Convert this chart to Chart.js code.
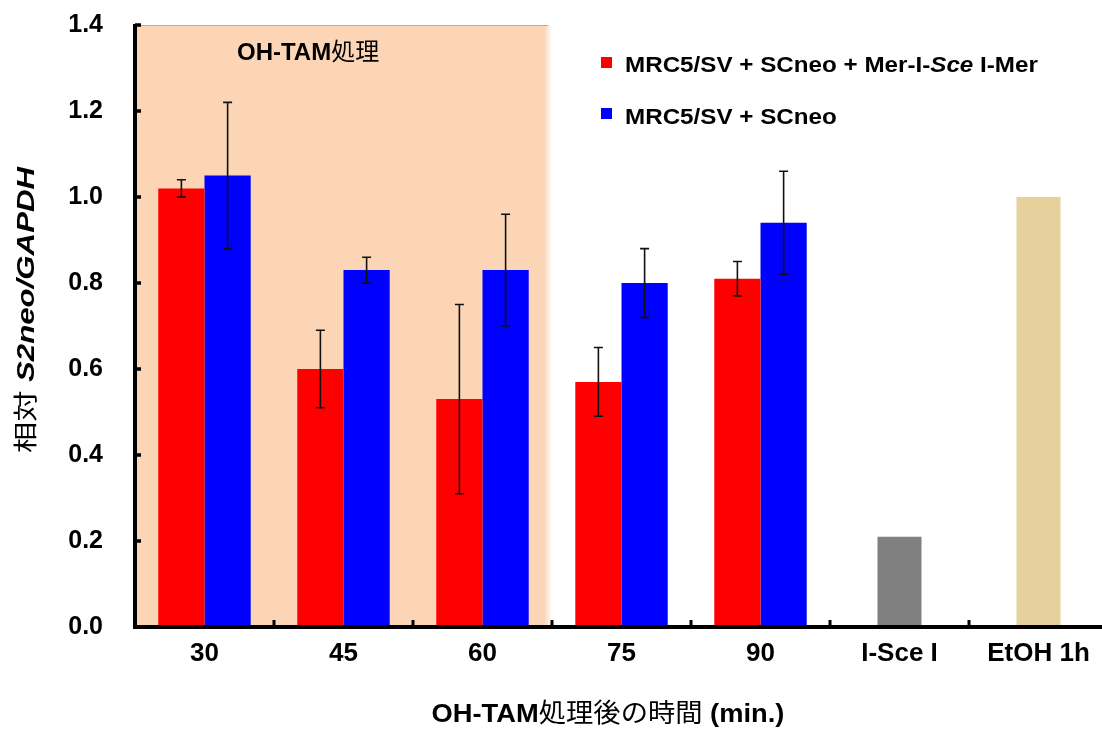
<!DOCTYPE html>
<html><head><meta charset="utf-8">
<script src="https://cdn.jsdelivr.net/npm/chart.js@4.4.0/dist/chart.umd.min.js"></script>
<style>html,body{margin:0;padding:0;overflow:hidden;background:#fff;width:1102px;height:731px}canvas{display:block}</style>
</head><body>
<canvas id="c" width="1110" height="731" style="width:1110px;height:731px"></canvas>
<script>
// ---- data ----
const categories = ['30', '45', '60', '75', '90', 'I-Sce I', 'EtOH 1h'];
const seriesNames = ['MRC5/SV + SCneo + Mer-I-Sce I-Mer', 'MRC5/SV + SCneo'];
const italicToken = 'Sce';
const redValues  = [1.02, 0.60, 0.53, 0.57, 0.81, null, null];
const redErrors  = [0.02, 0.09, 0.22, 0.08, 0.04, null, null];
const blueValues = [1.05, 0.83, 0.83, 0.80, 0.94, null, null];
const blueErrors = [0.17, 0.03, 0.13, 0.08, 0.12, null, null];
const controlValues = [null, null, null, null, null, 0.21, 1.00];
const yTickValues = [0.0, 0.2, 0.4, 0.6, 0.8, 1.0, 1.2, 1.4];
const shadedCategories = ['30', '45', '60'];
const shadeLabel = 'OH-TAM処理';
const xTitle = 'OH-TAM処理後の時間 (min.)';
const yTitle = '相対 S2neo/GAPDH';

// ---- styles ----
const LAT = '"Liberation Sans", Arial, Helvetica, sans-serif';
const CJK = '"Noto Sans CJK JP", "Noto Sans CJK SC", sans-serif';
const RED = '#FF0000', BLUE = '#0000FF';
const controlColors = [null, null, null, null, null, '#808080', '#E6D09C'];
const SHADE = '#FBD5B5';

function splitRuns(text, latStyle, size, italicWord) {
  const runs = [];
  const re = /[\u3000-\u9fff\uff00-\uffef]+|[^\u3000-\u9fff\uff00-\uffef]+/g;
  let m;
  while ((m = re.exec(text))) {
    const t = m[0];
    if (/[\u3000-\u9fff]/.test(t)) runs.push({ t, f: `${size}px ${CJK}` });
    else if (italicWord && t.includes(italicWord)) {
      const parts = t.split(italicWord);
      parts.forEach((p, i) => {
        if (p) runs.push({ t: p, f: `${latStyle} ${size}px ${LAT}` });
        if (i < parts.length - 1) runs.push({ t: italicWord, f: `italic ${latStyle} ${size}px ${LAT}` });
      });
    } else runs.push({ t, f: `${latStyle} ${size}px ${LAT}` });
  }
  return runs;
}
function drawRuns(ctx, runs, x, y, align, sx) {
  ctx.save();
  ctx.textBaseline = 'alphabetic';
  ctx.textAlign = 'left';
  ctx.fillStyle = '#000';
  let w = 0;
  runs.forEach(r => { ctx.font = r.f; r.w = ctx.measureText(r.t).width; w += r.w; });
  ctx.translate(x, y);
  ctx.scale(sx, 1);
  let cx = align === 'center' ? -w / 2 : 0;
  runs.forEach(r => { ctx.font = r.f; ctx.fillText(r.t, cx, 0); cx += r.w; });
  ctx.restore();
}

const decor = {
  id: 'decor',
  beforeDatasetsDraw(chart) {
    const { ctx, chartArea: a, scales: { x, y } } = chart;
    const catW = (a.right - a.left) / categories.length;
    const lastIdx = categories.indexOf(shadedCategories[shadedCategories.length - 1]);
    const xr = x.getPixelForValue(lastIdx) + catW / 2 - 4;
    const yt = y.getPixelForValue(1.4);
    ctx.save();
    ctx.fillStyle = SHADE;
    ctx.fillRect(a.left, yt, xr - 4 - a.left, a.bottom - yt);
    const g = ctx.createLinearGradient(xr - 4, 0, xr + 4, 0);
    g.addColorStop(0, SHADE); g.addColorStop(1, 'rgba(251,213,181,0)');
    ctx.fillStyle = g;
    ctx.fillRect(xr - 4, yt, 8, a.bottom - yt);
    ctx.strokeStyle = '#B8A898'; ctx.lineWidth = 1;
    ctx.beginPath(); ctx.moveTo(a.left, yt + 0.5); ctx.lineTo(xr, yt + 0.5); ctx.stroke();
    ctx.restore();
    drawRuns(ctx, splitRuns(shadeLabel, 'bold', 24), 237, 60, 'left', 1.0);
  },
  afterDatasetsDraw(chart) {
    const { ctx, chartArea: a, scales: { x, y } } = chart;
    // error bars
    [[0, redValues, redErrors], [1, blueValues, blueErrors]].forEach(([di, vals, errs]) => {
      const meta = chart.getDatasetMeta(di);
      vals.forEach((v, j) => {
        if (v == null || errs[j] == null) return;
        const px = meta.data[j].x;
        const y1 = y.getPixelForValue(v + errs[j]);
        const y2 = y.getPixelForValue(v - errs[j]);
        ctx.save();
        ctx.strokeStyle = '#111'; ctx.lineWidth = 1.6;
        ctx.beginPath();
        ctx.moveTo(px, y1); ctx.lineTo(px, y2);
        ctx.moveTo(px - 4.5, y1); ctx.lineTo(px + 4.5, y1);
        ctx.moveTo(px - 4.5, y2); ctx.lineTo(px + 4.5, y2);
        ctx.stroke();
        ctx.restore();
      });
    });
    // axes
    ctx.save();
    ctx.strokeStyle = '#000';
    ctx.lineWidth = 4;
    ctx.beginPath();
    ctx.moveTo(a.left, y.getPixelForValue(1.4) - 1); ctx.lineTo(a.left, a.bottom + 2);
    ctx.moveTo(a.left - 2, a.bottom); ctx.lineTo(chart.width, a.bottom);
    ctx.stroke();
    ctx.lineWidth = 3.5;
    ctx.beginPath();
    yTickValues.forEach(v => { const py = y.getPixelForValue(v); ctx.moveTo(a.left, py); ctx.lineTo(a.left + 6, py); });
    ctx.stroke();
    const catW = (a.right - a.left) / categories.length;
    ctx.lineWidth = 3;
    ctx.beginPath();
    for (let k = 1; k < categories.length; k++) { const px = a.left + k * catW; ctx.moveTo(px, a.bottom); ctx.lineTo(px, a.bottom - 7); }
    ctx.stroke();
    ctx.restore();
  },
  afterDraw(chart) {
    const { ctx } = chart;
    // legend
    const colors = [RED, BLUE];
    const rows = [{ sq: 57, base: 71.5 }, { sq: 108, base: 124 }];
    seriesNames.forEach((n, i) => {
      ctx.fillStyle = colors[i];
      ctx.fillRect(601, rows[i].sq, 11, 11);
      drawRuns(ctx, splitRuns(n, 'bold', 22, italicToken), 625, rows[i].base, 'left', 1.1);
    });
    // x title
    drawRuns(ctx, splitRuns(xTitle, 'bold', 26), 608, 722, 'center', 1.05);
    // y title (rotated)
    ctx.save();
    ctx.translate(25, 310);
    ctx.rotate(-Math.PI / 2);
    drawRuns(ctx, splitRuns(yTitle, 'italic bold', 24), 0, 8.5, 'center', 1.3);
    ctx.restore();
  }
};

new Chart(document.getElementById('c'), {
  type: 'bar',
  data: {
    labels: categories,
    datasets: [
      { label: seriesNames[0], data: redValues, backgroundColor: RED, skipNull: true },
      { label: seriesNames[1], data: blueValues, backgroundColor: BLUE, skipNull: true },
      { label: 'control', data: controlValues, backgroundColor: controlColors, skipNull: true, maxBarThickness: 44 }
    ]
  },
  options: {
    responsive: false,
    animation: false,
    layout: { padding: { top: 25, right: 2, left: 0, bottom: 0 } },
    datasets: { bar: { categoryPercentage: 0.665, barPercentage: 1.0 } },
    plugins: { legend: { display: false }, tooltip: { enabled: false } },
    scales: {
      x: {
        grid: { display: false, drawTicks: false }, border: { display: false },
        ticks: { color: '#000', font: { family: LAT, size: 26, weight: 'bold' }, padding: 11, maxRotation: 0, autoSkip: false },
        afterFit: s => { s.height = 104; s.paddingLeft = 0; s.paddingRight = 0; }
      },
      y: {
        min: 0, max: 1.4,
        afterBuildTicks: s => { s.ticks = yTickValues.map(v => ({ value: v })); },
        grid: { display: false, drawTicks: false }, border: { display: false },
        ticks: { color: '#000', font: { family: LAT, size: 25, weight: 'bold' }, padding: 32, callback: v => Number(v).toFixed(1) },
        afterFit: s => { s.width = 135; s.paddingTop = 0; s.paddingBottom = 0; }
      }
    }
  },
  plugins: [decor]
});
</script>
</body></html>
